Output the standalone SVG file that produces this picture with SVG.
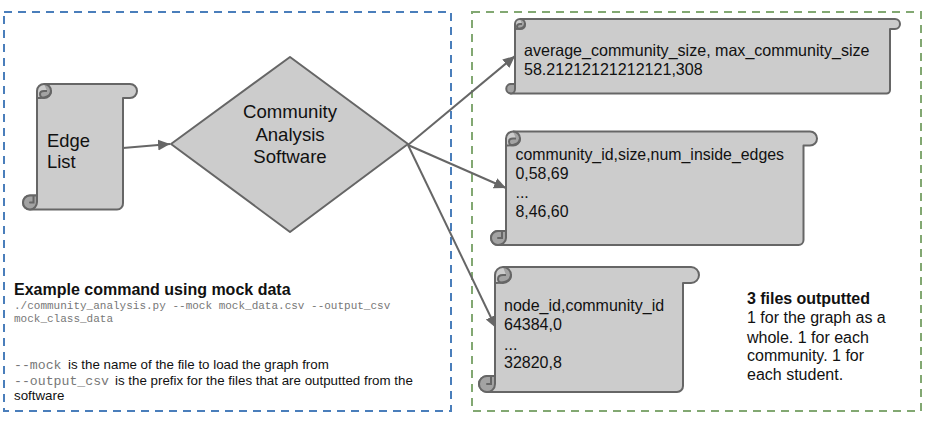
<svg xmlns="http://www.w3.org/2000/svg" width="932" height="421" viewBox="0 0 932 421">
<style>
text{font-family:"Liberation Sans",Arial,sans-serif;fill:#111}
.s{fill:#ccc;stroke:#666;stroke-width:2;stroke-linejoin:round}
.c{fill:#a3a3a3;stroke:#666;stroke-width:2;stroke-linejoin:round}
.f{fill:none;stroke:#666;stroke-width:2;stroke-linecap:round}
.l{fill:none;stroke:#666;stroke-width:2}
.m{font-family:"Liberation Mono","Courier New",monospace;fill:#777}
.b1{fill:none;stroke:#4a7ebb;stroke-width:2;stroke-dasharray:8 6}
.b2{fill:none;stroke:#82a872;stroke-width:2;stroke-dasharray:8 6}
</style>
<defs>
<marker id="a" markerUnits="userSpaceOnUse" markerWidth="14" markerHeight="12" refX="12" refY="5.5" orient="auto"><path d="M0 0L12 5.5L0 11Z" fill="#666"/></marker>
</defs>
<g id="regions">
<rect class="b1" x="4" y="12" width="447" height="399"/>
<rect class="b2" x="472" y="12" width="449" height="399"/>
</g>
<g id="edge-list">
<path class="s" d="M44 84H130A7 7 0 0 1 130 98H123V203A6 6 0 0 1 117 209.500H30A7 7 0 0 1 30 195.500H37V91A7 7 0 0 1 44 84Z"/>
<path class="c" d="M30 195.500A7 7 0 1 0 30 209.500C34 209.500 37 206 37 202V195.500Z"/>
<path class="f" d="M30 202.500H33.500V196"/>
<path class="c" d="M44 84A7 7 0 0 1 51 91C51 95 48 98 44 98C41 98 40 96 40 94C40 92 42 91 44 91H47"/>
<path class="f" d="M51 91C51 95 48 98 37 98"/>
<text x="47" y="147" font-size="18.400">Edge</text>
<text x="47" y="168" font-size="18.400">List</text>
</g>
<g id="software">
<polygon class="s" points="171,144 290,57 408,144 290,232"/>
<text x="290" y="118" font-size="18.600" text-anchor="middle">Community</text>
<text x="290" y="141" font-size="18.600" text-anchor="middle">Analysis</text>
<text x="290" y="163" font-size="18.600" text-anchor="middle">Software</text>
</g>
<g id="connectors">
<path class="l" marker-end="url(#a)" d="M123 148L170 144"/>
<path class="l" marker-end="url(#a)" d="M408 145L515 56"/>
<path class="l" marker-end="url(#a)" d="M408 145L506 188"/>
<path class="l" marker-end="url(#a)" d="M408 145L496 328"/>
</g>
<g id="file-graph">
<path class="s" d="M520 19H895A5 5 0 0 1 895 29H890V90A3.500 3.500 0 0 1 886.500 93.500H511A5 5 0 0 1 511 84H515V24A5 5 0 0 1 520 19Z"/>
<path class="c" d="M511 84A4.700 4.700 0 1 0 511 93.500C513 93.500 515 92 515 89V84Z"/>
<path class="c" d="M520 19A5 5 0 0 1 525 24C525 27 523 29 520 29C518 29 517 28 517 26.500C517 25 518 24 520 24H522"/>
<path class="f" d="M525 24C525 27 523 29 515 29"/>
<text x="524" y="56" font-size="16.070">average_community_size, max_community_size</text>
<text x="524" y="75" font-size="16.070">58.21212121212121,308</text>
</g>
<g id="file-community">
<path class="s" d="M513 131.500H810A7 7 0 0 1 810 145.500H803.500V240A5 5 0 0 1 798.500 245H498A7 7 0 0 1 498 231H506V138.500A7 7 0 0 1 513 131.500Z"/>
<path class="c" d="M498 231A7 7 0 1 0 498 245C502 245 506 242 506 238V231Z"/>
<path class="f" d="M498 238H502V232"/>
<path class="c" d="M513 131.500A7 7 0 0 1 520 138.500C520 142.500 517 145.500 513 145.500C510 145.500 509 143.500 509 141.500C509 139.500 511 138.500 513 138.500H516"/>
<path class="f" d="M520 138.500C520 142.500 517 145.500 506 145.500"/>
<text x="515.500" y="160" font-size="15.900">community_id,size,num_inside_edges</text>
<text x="515.500" y="179" font-size="15.900">0,58,69</text>
<text x="515.500" y="198" font-size="15.900">...</text>
<text x="515.500" y="217" font-size="15.900">8,46,60</text>
</g>
<g id="file-student">
<path class="s" d="M503 267H691A8 8 0 0 1 691 283H683V386A6 6 0 0 1 677 392H487A8 8 0 0 1 487 376H495V275A8 8 0 0 1 503 267Z"/>
<path class="c" d="M487 376A8 8 0 1 0 487 392C491 392 495 389 495 384V376Z"/>
<path class="f" d="M487 384H491V377"/>
<path class="c" d="M503 267A8 8 0 0 1 511 275C511 280 507 283 503 283C499 283 498 281 498 279C498 276 500 275 503 275H506"/>
<path class="f" d="M511 275C511 280 507 283 495 283"/>
<text x="504" y="311" font-size="16">node_id,community_id</text>
<text x="504" y="330" font-size="16">64384,0</text>
<text x="504" y="350" font-size="16">...</text>
<text x="504" y="368" font-size="16">32820,8</text>
</g>
<g id="note-files">
<text x="747" y="304" font-size="16" font-weight="bold" textLength="123">3 files outputted</text>
<text x="747" y="323" font-size="16">1 for the graph as a</text>
<text x="747" y="343" font-size="16">whole. 1 for each</text>
<text x="747" y="361" font-size="16">community. 1 for</text>
<text x="747" y="380" font-size="16">each student.</text>
</g>
<g id="note-command">
<text x="14" y="295" font-size="16" font-weight="bold">Example command using mock data</text>
<text class="m" x="14" y="309" font-size="11">./community_analysis.py --mock mock_data.csv --output_csv</text>
<text class="m" x="14" y="322" font-size="11">mock_class_data</text>
<text class="m" x="14" y="369" font-size="13.200">--mock</text>
<text x="68" y="369" font-size="13.330">is the name of the file to load the graph from</text>
<text class="m" x="14" y="385" font-size="13.200">--output_csv</text>
<text x="115" y="385" font-size="13.330">is the prefix for the files that are outputted from the</text>
<text x="14" y="400" font-size="13.330">software</text>
</g>
</svg>
